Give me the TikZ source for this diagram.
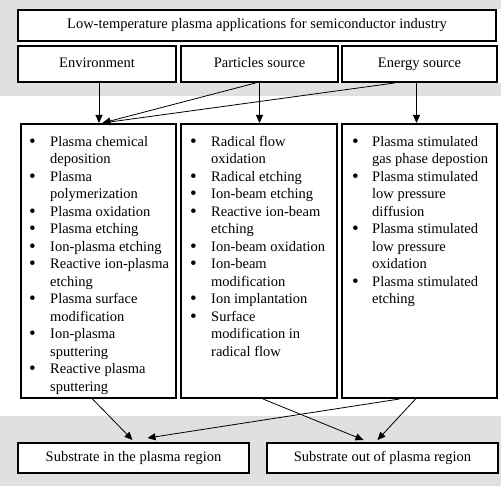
\documentclass[tikz,border=0pt]{standalone}
\usepackage{fontspec}
\setmainfont{Liberation Serif}
\usetikzlibrary{arrows.meta}
\newcommand{\bigbul}{\raisebox{-0.6pt}{\fontsize{19}{19}\selectfont\textbullet}}
\newcommand{\bitem}[1]{\bigbul & #1\\}
\newcommand{\bcont}[1]{& #1\\}
\begin{document}
\begin{tikzpicture}[x=1pt,y=-1pt,
  box/.style={draw=black,line width=2pt,fill=white,inner sep=0pt,text height=10pt,text depth=3pt,font=\fontsize{14.5}{16}\selectfont},
  lbox/.style={draw=black,line width=2pt,fill=white,inner sep=0pt},
  lst/.style={anchor=north west,inner sep=0pt,align=left,font=\fontsize{14.5}{17.5}\selectfont},
  conn/.style={line width=0.8pt,-{Triangle[length=8pt,width=7pt]}},
  scanbg/.style={fill=black!12,draw=none}]
\useasboundingbox (0,0) rectangle (501,486);
\fill[scanbg] (0,0) rectangle (501,9);
\fill[scanbg] (0,0) rectangle (17,96);
\fill[scanbg] (0,83) rectangle (501,96);
\fill[scanbg] (0,416) rectangle (501,486);
% top
\node[box,minimum width=478pt,minimum height=31pt] (top) at (257,25.5) {Low-temperature plasma applications for semiconductor industry};
\node[box,minimum width=158pt,minimum height=36pt] (env) at (97,64) {Environment};
\node[box,minimum width=157pt,minimum height=36pt] (part) at (259.5,64) {Particles source};
\node[box,minimum width=155pt,minimum height=36pt] (energy) at (419.5,64) {Energy source};
% list boxes
\node[lbox,minimum width=155pt,minimum height=274pt] (lb) at (98.5,261) {};
\node[lbox,minimum width=156pt,minimum height=274pt] (mb) at (259,261) {};
\node[lbox,minimum width=155pt,minimum height=274pt] (rb) at (419.5,261) {};
\node[lst] (lbt) at (29,134) {\begin{tabular}{@{}p{21pt}@{}l@{}}
\bitem{Plasma chemical}\bcont{deposition}
\bitem{Plasma}\bcont{polymerization}
\bitem{Plasma oxidation}
\bitem{Plasma etching}
\bitem{Ion-plasma etching}
\bitem{Reactive ion-plasma}\bcont{etching}
\bitem{Plasma surface}\bcont{modification}
\bitem{Ion-plasma}\bcont{sputtering}
\bitem{Reactive plasma}\bcont{sputtering}
\end{tabular}};
\node[lst] (mbt) at (190,134) {\begin{tabular}{@{}p{21pt}@{}l@{}}
\bitem{Radical flow}\bcont{oxidation}
\bitem{Radical etching}
\bitem{Ion-beam etching}
\bitem{Reactive ion-beam}\bcont{etching}
\bitem{Ion-beam oxidation}
\bitem{Ion-beam}\bcont{modification}
\bitem{Ion implantation}
\bitem{Surface}\bcont{modification in}\bcont{radical flow}
\end{tabular}};
\node[lst] (rbt) at (352,134) {\begin{tabular}{@{}p{20pt}@{}l@{}}
\bitem{Plasma stimulated}\bcont{gas phase depostion}
\bitem{Plasma stimulated}\bcont{low pressure}\bcont{diffusion}
\bitem{Plasma stimulated}\bcont{low pressure}\bcont{oxidation}
\bitem{Plasma stimulated}\bcont{etching}
\end{tabular}};
% bottom
\node[box,minimum width=231pt,minimum height=30pt] (bl) at (133.5,458) {Substrate in the plasma region};
\node[box,minimum width=231pt,minimum height=30pt] (br) at (382.5,458) {Substrate out of plasma region};
% top connectors
\draw[conn] ([xshift=2pt]env.south) -- ([xshift=2pt]env.south |- lb.north);
\draw[conn] ([xshift=-4pt]part.south) -- ([xshift=4pt]lb.north);
\draw[conn] ([xshift=-25pt]energy.south) -- ([xshift=4pt]lb.north);
\draw[conn] (part.south) -- (part.south |- mb.north);
\draw[conn] ([xshift=-3pt]energy.south) -- ([xshift=-3pt]energy.south |- rb.north);
% bottom connectors
\draw[conn] ([xshift=-6pt]lb.south) -- ([xshift=-1pt,yshift=2pt]bl.north);
\draw[conn] ([xshift=4pt]mb.south) -- ([xshift=-19pt,yshift=2pt]br.north);
\draw[conn] ([xshift=-4pt]rb.south) -- ([xshift=-5pt,yshift=2pt]br.north);
\draw[conn] ([xshift=-20pt]rb.south) -- ([xshift=14pt,yshift=4pt]bl.north);
\end{tikzpicture}
\end{document}
